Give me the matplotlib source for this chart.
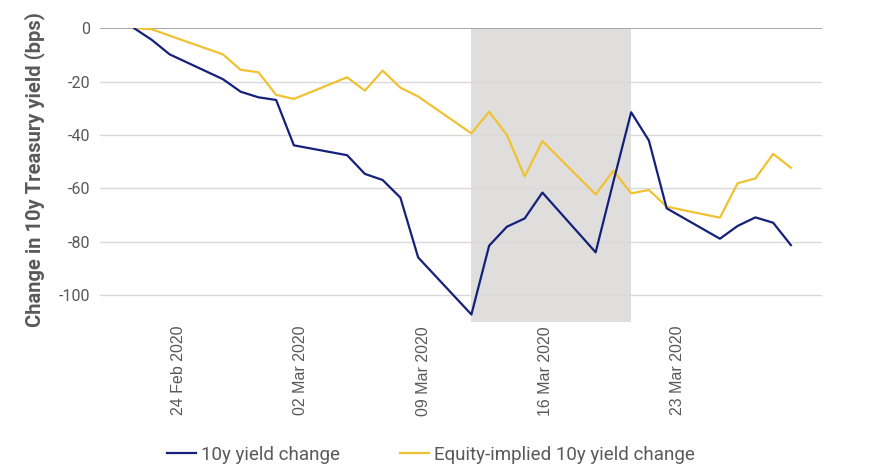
import numpy as np
import pandas as pd
import matplotlib
matplotlib.use("Agg")
import matplotlib.pyplot as plt

# Данные
dates = pd.to_datetime([
    "2020-02-19", "2020-02-20", "2020-02-21", "2020-02-24", "2020-02-25",
    "2020-02-26", "2020-02-27", "2020-02-28", "2020-03-02", "2020-03-03",
    "2020-03-04", "2020-03-05", "2020-03-06", "2020-03-09", "2020-03-10",
    "2020-03-11", "2020-03-12", "2020-03-13", "2020-03-16", "2020-03-17",
    "2020-03-18", "2020-03-19", "2020-03-20", "2020-03-23", "2020-03-24",
    "2020-03-25", "2020-03-26", "2020-03-27",
])
yield_change = [0, -4.4, -9.8, -19.1, -23.8, -25.9, -26.9, -43.9, -47.6, -54.6,
                -56.9, -63.5, -85.9, -107.3, -81.5, -74.4, -71.3, -61.6, -84.0, -57.5,
                -31.5, -42.1, -67.5, -78.9, -74.1, -70.9, -72.9, -81.3]
equity_implied = [0, -0.4, -2.8, -9.8, -15.6, -16.5, -25.0, -26.5, -18.4, -23.4,
                  -15.9, -22.3, -25.6, -39.4, -31.3, -40.0, -55.6, -42.3, -62.3, -53.4,
                  -61.9, -60.6, -66.9, -71.0, -58.1, -56.3, -47.1, -52.3]
shade_start, shade_end = pd.Timestamp("2020-03-09"), pd.Timestamp("2020-03-18")
tick_labels = ["24 Feb 2020", "02 Mar 2020", "09 Mar 2020", "16 Mar 2020", "23 Mar 2020"]
yticks = [0, -20, -40, -60, -80, -100]

start = dates[0]
x = (dates - start).days
# подписи на оригинале чуть сдвинуты влево относительно своих дат
tick_pos = [2.5, 9.38, 16.29, 23.15, 30.6]

grey = "#595959"
fig = plt.figure(figsize=(8.7, 4.7), dpi=100)
ax = fig.add_axes([0.115, 0.3155, 0.83, 0.6245])

ax.axvspan((shade_start - start).days, (shade_end - start).days,
           color="#dfdedd", lw=0, zorder=0)
for v in yticks:
    if v == 0:
        ax.axhline(v, color="#a6a6a6", lw=1.4, zorder=1)
    else:
        ax.axhline(v, color="#d9d9d9", lw=1.0, zorder=1)

ax.plot(x, yield_change, color="#14207a", lw=1.6, label="10y yield change", zorder=3)
ax.plot(x, equity_implied, color="#f0c232", lw=1.6,
        label="Equity-implied 10y yield change", zorder=2)

ax.set_xlim(-1.92, 38.76)
ax.set_ylim(-110, 0)
for s in ax.spines.values():
    s.set_visible(False)

ax.set_yticks(yticks)
ax.set_yticklabels([str(v) for v in yticks], family="Roboto", fontsize=11.5, color=grey)
ax.tick_params(axis="y", length=0, pad=7)
ax.set_xticks(tick_pos)
ax.set_xticklabels(tick_labels, rotation=90, family="Liberation Sans",
                   fontsize=11.5, color=grey, ha="center", va="top")
ax.tick_params(axis="x", length=0, pad=3)

fig.text(0.040, 0.64, "Change in 10y Treasury yield (bps)", rotation=90,
         ha="center", va="center", family="Roboto", fontweight="bold",
         fontsize=14.5, color=grey)

fig.legend(loc="center", bbox_to_anchor=(431 / 870, 1 - 455 / 470), ncol=2,
           frameon=False, prop={"family": "Roboto", "size": 13.5},
           labelcolor=grey, handlelength=1.55, handletextpad=0.27, columnspacing=3.2)

fig.savefig("out.png", dpi=100)
